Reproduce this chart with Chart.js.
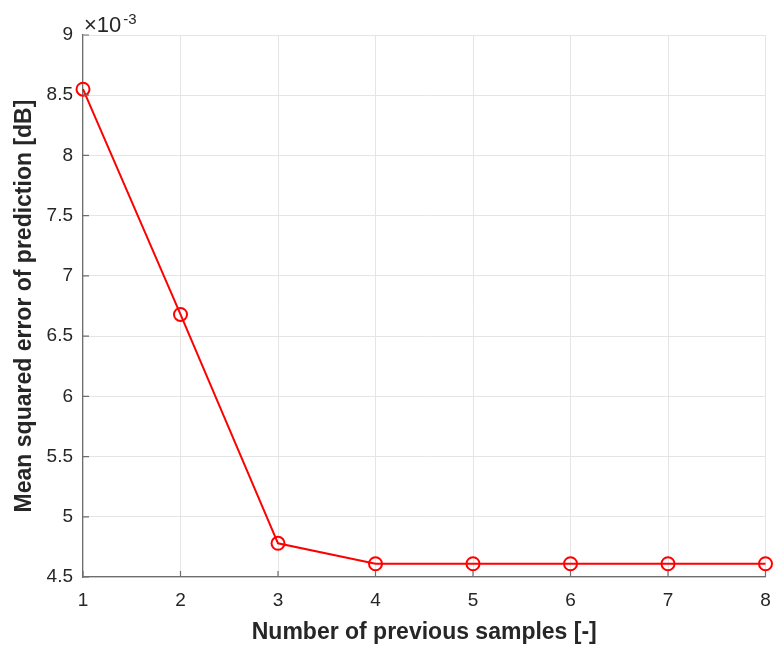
<!DOCTYPE html>
<html>
<head>
<meta charset="utf-8">
<script src="https://cdn.jsdelivr.net/npm/chart.js@4.4.0/dist/chart.umd.min.js"></script>
<style>
    html, body { margin: 0; padding: 0; background: #fff; }
    #wrap { width: 774px; height: 648px; }
</style>
</head>
<body>
<div id="wrap"><canvas id="mseChart" width="774" height="648"></canvas></div>
<script>
// Number of previous samples used for prediction
const samples = [1, 2, 3, 4, 5, 6, 7, 8];
// Mean squared error, in units of 10^-3
const mse = [8.55, 6.68, 4.78, 4.61, 4.61, 4.61, 4.61, 4.61];
const yMin = 4.5;
const yMax = 9;
const yStep = 0.5;
const yExponent = '-3';

const fontFamily = 'Arial, "Liberation Sans", Helvetica, sans-serif';
const axisColor = '#6e6e6e';

// Draws the "x10^-3" multiplier above the y axis
const exponentLabel = {
    id: 'exponentLabel',
    afterDraw(chart) {
        const ctx = chart.ctx;
        const left = chart.chartArea.left;
        const top = chart.chartArea.top;
        ctx.save();
        ctx.fillStyle = '#262626';
        ctx.textBaseline = 'alphabetic';
        ctx.font = '22px ' + fontFamily;
        ctx.fillText('\u00d710', left + 1, top - 3);
        const w = ctx.measureText('\u00d710').width;
        ctx.font = '15px ' + fontFamily;
        ctx.fillText(yExponent, left + w + 3, top - 11);
        ctx.restore();
    }
};

// Small inward tick marks, like the matlab axes
const innerTicks = {
    id: 'innerTicks',
    afterDatasetsDraw(chart) {
        const ctx = chart.ctx;
        const area = chart.chartArea;
        const xs = chart.scales.x;
        const ys = chart.scales.y;
        ctx.save();
        ctx.strokeStyle = axisColor;
        ctx.lineWidth = 1.2;
        ctx.beginPath();
        xs.ticks.forEach(t => {
            const px = xs.getPixelForValue(t.value);
            ctx.moveTo(px, area.bottom);
            ctx.lineTo(px, area.bottom - 6);
        });
        ys.ticks.forEach(t => {
            const py = ys.getPixelForValue(t.value);
            ctx.moveTo(area.left, py);
            ctx.lineTo(area.left + 6, py);
        });
        ctx.stroke();
        ctx.restore();
    }
};

const ctx = document.getElementById('mseChart').getContext('2d');
new Chart(ctx, {
    type: 'line',
    data: {
        datasets: [{
            label: 'MSE',
            data: samples.map((s, i) => ({ x: s, y: mse[i] })),
            borderColor: '#ff0000',
            backgroundColor: 'rgba(0,0,0,0)',
            borderWidth: 2,
            tension: 0,
            pointRadius: 6.5,
            pointBorderWidth: 2,
            pointBorderColor: '#ff0000',
            pointBackgroundColor: 'rgba(0,0,0,0)',
            clip: false
        }]
    },
    options: {
        responsive: false,
        animation: false,
        layout: {
            padding: { left: 0, right: 7, top: 35, bottom: 0 }
        },
        scales: {
            x: {
                type: 'linear',
                min: samples[0],
                max: samples[samples.length - 1],
                afterFit: function (scale) { scale.height = 71; },
                ticks: {
                    stepSize: 1,
                    padding: 0,
                    color: '#262626',
                    font: { family: fontFamily, size: 19 }
                },
                grid: {
                    color: '#e5e5e5',
                    drawTicks: true,
                    tickLength: 12,
                    tickColor: 'rgba(0,0,0,0)'
                },
                border: { color: axisColor, width: 1.2 },
                title: {
                    display: true,
                    text: 'Number of previous samples [-]',
                    color: '#262626',
                    font: { family: fontFamily, size: 23, weight: 'bold' },
                    padding: { top: 0, bottom: 2 }
                }
            },
            y: {
                min: yMin,
                max: yMax,
                afterFit: function (scale) { scale.width = 83; },
                ticks: {
                    stepSize: yStep,
                    padding: 10,
                    color: '#262626',
                    font: { family: fontFamily, size: 19 },
                    callback: function (value) { return String(Number(value.toFixed(1))); }
                },
                grid: {
                    color: '#e5e5e5',
                    drawTicks: false
                },
                border: { color: axisColor, width: 1.2 },
                title: {
                    display: true,
                    text: 'Mean squared error of prediction [dB]',
                    color: '#262626',
                    font: { family: fontFamily, size: 23, weight: 'bold' },
                    padding: { top: 11, bottom: 0 }
                }
            }
        },
        plugins: {
            legend: { display: false },
            title: { display: false },
            tooltip: { enabled: false }
        }
    },
    plugins: [exponentLabel, innerTicks]
});
</script>
</body>
</html>
